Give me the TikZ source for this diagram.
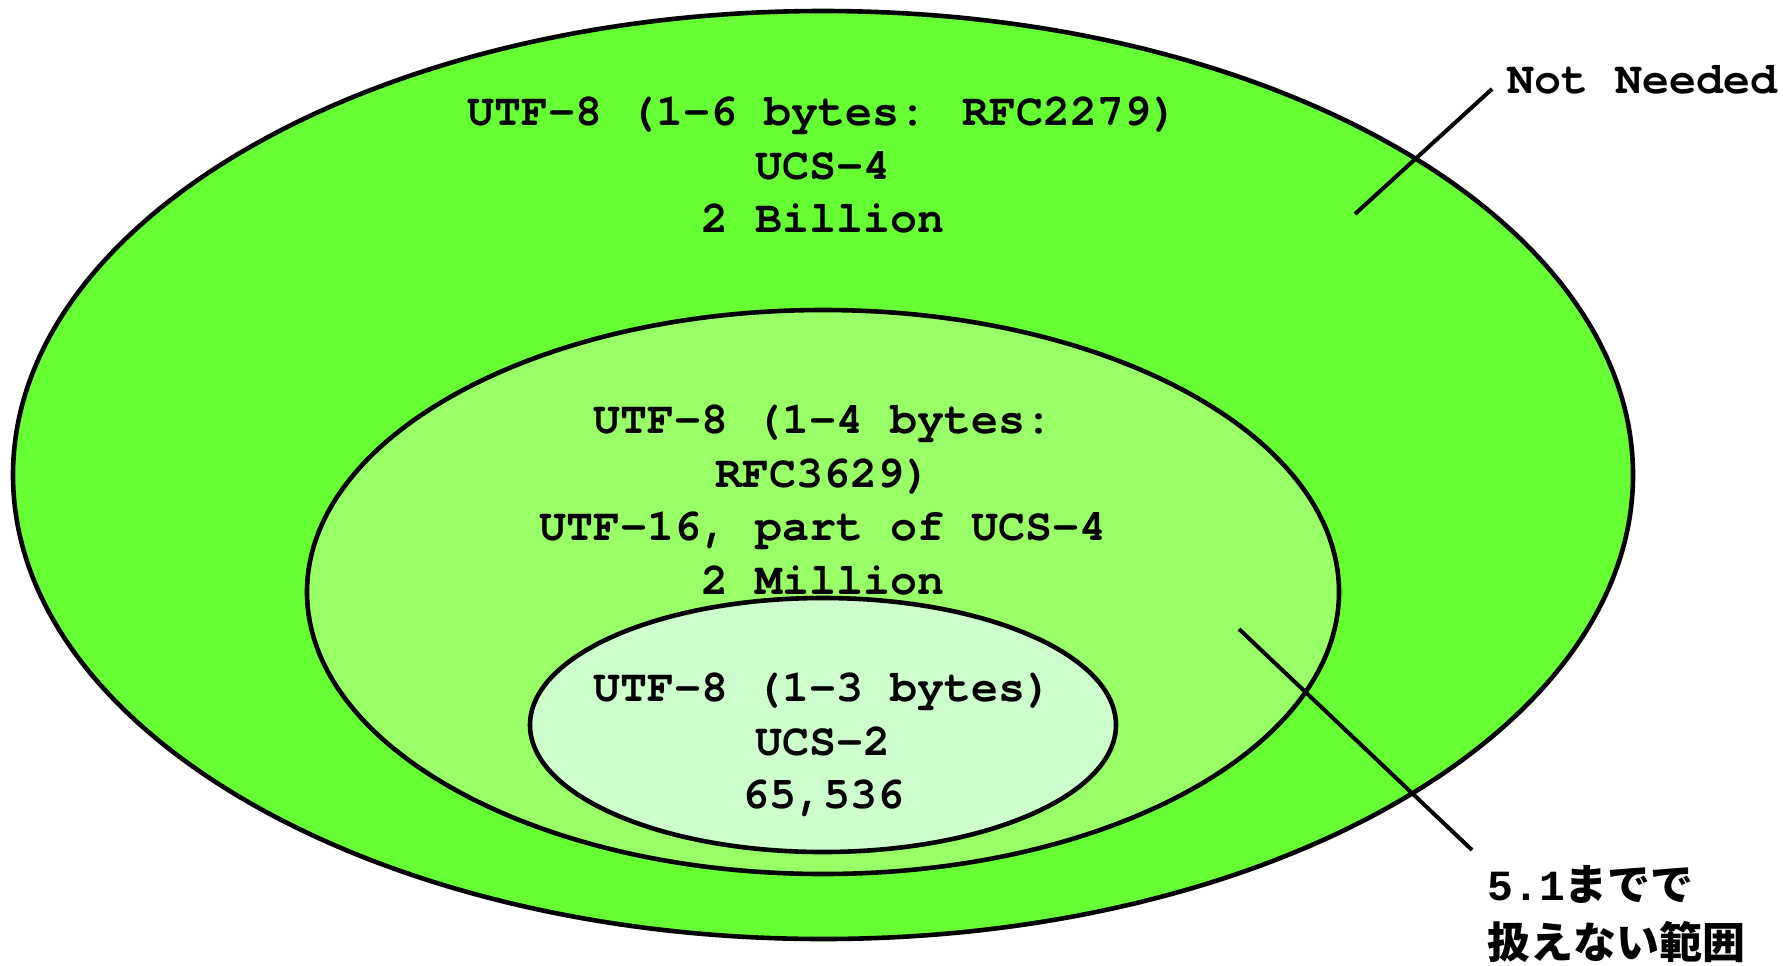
\documentclass[tikz,border=0pt]{standalone}
\usepackage{fontspec}
\newfontfamily\monob{texgyrecursor}[Extension=.otf, UprightFont=*-regular, BoldFont=*-bold]
\newfontfamily\digmono{Liberation Mono}
\newfontfamily\jpfont{Noto Sans CJK JP}
\definecolor{outerg}{HTML}{66FF33}
\definecolor{midg}{HTML}{99FF66}
\definecolor{innerg}{HTML}{CCFFCC}
\begin{document}
\begin{tikzpicture}[x=0.5pt,y=-0.5pt,
  region/.style={draw=black, line width=2.3pt},
  lbl/.style={font=\monob\bfseries\fontsize{22.5pt}{26.75pt}\selectfont, align=center, inner sep=0pt},
  leader/.style={draw=black, line width=2pt}]
\useasboundingbox (0,0) rectangle (1783,965);
\fill[white] (0,0) rectangle (1783,965);
\draw[region, fill=outerg] (823,475) ellipse [x radius=810, y radius=464];
\node[lbl] (t1) at (823,165) {UTF-8 (1-6 bytes: RFC2279)\\UCS-4\\2 Billion};
\draw[region, fill=midg] (823,592) ellipse [x radius=516, y radius=282];
\node[lbl] (t2) at (823,500) {UTF-8 (1-4 bytes:\\RFC3629)\\UTF-16, part of UCS-4\\2 Million};
\draw[region, fill=innerg] (823,725) ellipse [x radius=293, y radius=127];
\node[lbl] (t3) at (823,745) {UTF-8 (1-3 bytes)\\UCS-2\\65,536};
\node[lbl, anchor=west] (nn) at (1507,80) {Not Needed};
\node[anchor=west, align=left, inner sep=0pt, font=\jpfont\bfseries\fontsize{21.5pt}{29pt}\selectfont] (jp) at (1487,914) {{\digmono\bfseries 5.1}までで\\扱えない範囲};
\coordinate (a1) at (1492,89);
\coordinate (a2) at (1355,214);
\coordinate (b1) at (1239,629);
\coordinate (b2) at (1472,850);
\draw[leader] (a1) -- (a2);
\draw[leader] (b1) -- (b2);
\end{tikzpicture}
\end{document}
